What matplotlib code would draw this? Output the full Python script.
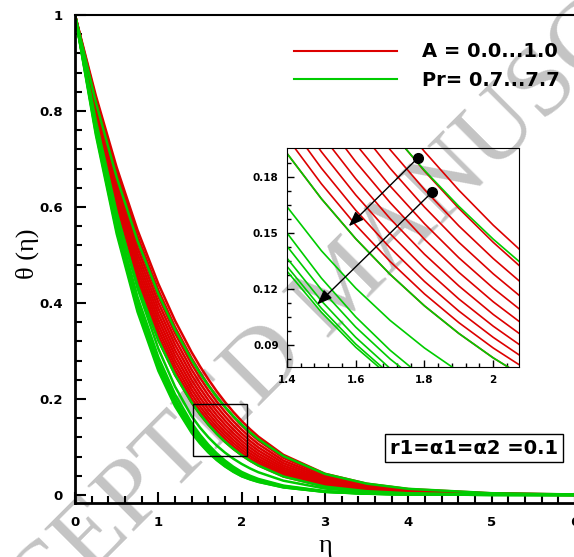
import matplotlib
matplotlib.use('Agg')
import matplotlib.pyplot as plt
from matplotlib.patches import Rectangle
from matplotlib.lines import Line2D

# ---------------- data ----------------
eta_grid = [0, 0.25, 0.5, 0.75, 1.0, 1.2, 1.4, 1.5, 1.6, 1.7, 1.8, 1.9, 2.0, 2.1, 2.2, 2.5, 3.0, 3.5, 4.0, 5.0, 6.0]

A_values = [0.0, 0.1, 0.2, 0.3, 0.4, 0.5, 0.6, 0.7, 0.8, 0.9, 1.0]
theta_A00 = [1, 0.8320, 0.6825, 0.5519, 0.4400, 0.3633, 0.2972, 0.2679, 0.2410, 0.2162, 0.1936, 0.1729, 0.1541, 0.1371, 0.1216, 0.0837, 0.0442, 0.0234, 0.0123, 0.0034, 0.0010]
theta_A01 = [1, 0.8256, 0.6720, 0.5392, 0.4266, 0.3500, 0.2846, 0.2558, 0.2293, 0.2051, 0.1831, 0.1631, 0.1449, 0.1284, 0.1136, 0.0775, 0.0403, 0.0210, 0.0109, 0.0029, 0.0008]
theta_A02 = [1, 0.8193, 0.6617, 0.5268, 0.4135, 0.3372, 0.2725, 0.2442, 0.2182, 0.1946, 0.1732, 0.1537, 0.1362, 0.1203, 0.1061, 0.0717, 0.0367, 0.0188, 0.0096, 0.0025, 0.0007]
theta_A03 = [1, 0.8129, 0.6515, 0.5147, 0.4009, 0.3249, 0.2609, 0.2331, 0.2077, 0.1846, 0.1638, 0.1449, 0.1280, 0.1127, 0.0991, 0.0664, 0.0335, 0.0169, 0.0085, 0.0022, 0.0005]
theta_A04 = [1, 0.8067, 0.6415, 0.5029, 0.3887, 0.3131, 0.2499, 0.2225, 0.1976, 0.1751, 0.1549, 0.1366, 0.1203, 0.1056, 0.0926, 0.0614, 0.0305, 0.0151, 0.0075, 0.0019, 0.0005]
theta_A05 = [1, 0.8004, 0.6316, 0.4913, 0.3768, 0.3016, 0.2393, 0.2124, 0.1881, 0.1662, 0.1465, 0.1288, 0.1130, 0.0990, 0.0865, 0.0568, 0.0278, 0.0136, 0.0066, 0.0016, 0.0004]
theta_A06 = [1, 0.7942, 0.6219, 0.4801, 0.3653, 0.2906, 0.2291, 0.2027, 0.1790, 0.1576, 0.1385, 0.1215, 0.1062, 0.0927, 0.0808, 0.0526, 0.0253, 0.0122, 0.0059, 0.0014, 0.0003]
theta_A07 = [1, 0.7881, 0.6123, 0.4690, 0.3542, 0.2800, 0.2194, 0.1935, 0.1703, 0.1495, 0.1310, 0.1145, 0.0999, 0.0869, 0.0754, 0.0487, 0.0231, 0.0109, 0.0052, 0.0012, 0.0003]
theta_A08 = [1, 0.7820, 0.6029, 0.4582, 0.3434, 0.2698, 0.2100, 0.1847, 0.1621, 0.1419, 0.1239, 0.1080, 0.0939, 0.0814, 0.0705, 0.0451, 0.0210, 0.0098, 0.0046, 0.0010, 0.0002]
theta_A09 = [1, 0.7760, 0.5936, 0.4477, 0.3329, 0.2599, 0.2011, 0.1763, 0.1542, 0.1346, 0.1172, 0.1018, 0.0882, 0.0763, 0.0658, 0.0417, 0.0191, 0.0088, 0.0040, 0.0009, 0.0002]
theta_A10 = [1, 0.7700, 0.5845, 0.4374, 0.3227, 0.2504, 0.1926, 0.1683, 0.1468, 0.1277, 0.1108, 0.0960, 0.0829, 0.0715, 0.0615, 0.0386, 0.0174, 0.0079, 0.0036, 0.0007, 0.0001]
theta_A = [theta_A00, theta_A01, theta_A02, theta_A03, theta_A04, theta_A05,
           theta_A06, theta_A07, theta_A08, theta_A09, theta_A10]

Pr_values = [0.7, 1.7, 2.7, 3.7, 4.7, 5.7, 6.7, 7.7]
theta_Pr07 = [1, 0.8182, 0.6620, 0.5296, 0.4190, 0.3445, 0.2813, 0.2535, 0.2280, 0.2047, 0.1835, 0.1642, 0.1466, 0.1307, 0.1163, 0.0811, 0.0438, 0.0237, 0.0128, 0.0037, 0.0011]
theta_Pr17 = [1, 0.7700, 0.5845, 0.4374, 0.3227, 0.2504, 0.1926, 0.1683, 0.1468, 0.1277, 0.1108, 0.0960, 0.0829, 0.0715, 0.0615, 0.0386, 0.0174, 0.0079, 0.0036, 0.0007, 0.0001]
theta_Pr27 = [1, 0.7800, 0.5891, 0.4307, 0.3048, 0.2259, 0.1640, 0.1404, 0.1203, 0.1030, 0.0882, 0.0755, 0.0647, 0.0554, 0.0474, 0.0298, 0.0134, 0.0060, 0.0027, 0.0005, 0.0001]
theta_Pr37 = [1, 0.7701, 0.5734, 0.4127, 0.2872, 0.2098, 0.1499, 0.1257, 0.1049, 0.0870, 0.0718, 0.0589, 0.0481, 0.0402, 0.0335, 0.0196, 0.0080, 0.0032, 0.0013, 0.0002, 0.0000]
theta_Pr47 = [1, 0.7619, 0.5617, 0.4007, 0.2767, 0.2009, 0.1428, 0.1195, 0.0994, 0.0823, 0.0678, 0.0555, 0.0452, 0.0378, 0.0316, 0.0184, 0.0075, 0.0030, 0.0012, 0.0002, 0.0000]
theta_Pr57 = [1, 0.7591, 0.5565, 0.3940, 0.2694, 0.1939, 0.1364, 0.1135, 0.0939, 0.0772, 0.0632, 0.0514, 0.0416, 0.0347, 0.0290, 0.0169, 0.0069, 0.0028, 0.0011, 0.0002, 0.0000]
theta_Pr67 = [1, 0.7553, 0.5507, 0.3877, 0.2635, 0.1886, 0.1320, 0.1095, 0.0903, 0.0741, 0.0604, 0.0490, 0.0395, 0.0330, 0.0276, 0.0161, 0.0065, 0.0027, 0.0011, 0.0002, 0.0000]
theta_Pr77 = [1, 0.7504, 0.5443, 0.3817, 0.2587, 0.1850, 0.1294, 0.1074, 0.0886, 0.0727, 0.0594, 0.0482, 0.0389, 0.0325, 0.0272, 0.0158, 0.0064, 0.0026, 0.0011, 0.0002, 0.0000]
theta_Pr = [theta_Pr07, theta_Pr17, theta_Pr27, theta_Pr37, theta_Pr47, theta_Pr57, theta_Pr67, theta_Pr77]

# zoom window drawn in the main plot and annotation points of the inset
zoom_box_x = [1.416, 2.06]
zoom_box_y = [0.081, 0.19]
arrow_starts = [(1.78, 0.19), (1.822, 0.1718)]
arrow_ends = [(1.574, 0.1525), (1.482, 0.1105)]

legend_labels = ['A = 0.0...1.0', 'Pr= 0.7...7.7']
box_label = 'r1=α1=α2 =0.1'
main_yticks = [0, 0.2, 0.4, 0.6, 0.8, 1.0]
main_ytick_labels = ['0', '0.2', '0.4', '0.6', '0.8', '1']
inset_xticks = [1.4, 1.6, 1.8, 2.0]
inset_xtick_labels = ['1.4', '1.6', '1.8', '2']
inset_yticks = [0.09, 0.12, 0.15, 0.18]

# ---------------- figure ----------------
RED = '#dd0000'
GREEN = '#00cc00'
W, H = 574, 557
fig = plt.figure(figsize=(W/100, H/100), dpi=100)
def fx(px): return px / W
def fy(py): return 1 - py / H

ax = fig.add_axes([fx(75), fy(503), (575-75)/W, (503-15)/H])
axin = fig.add_axes([fx(287), fy(367), (519-287)/W, (367-148)/H])
ax.set_facecolor('none')
axin.set_facecolor('none')

for A, lw in ((ax, 1.8), (axin, 1.2)):
    for th in theta_A:
        A.plot(eta_grid, th, color=RED, lw=lw, solid_joinstyle='round')
    for th in theta_Pr:
        A.plot(eta_grid, th, color=GREEN, lw=lw, solid_joinstyle='round')

# main axes styling
ax.set_xlim(0, 6)
ax.set_ylim(-0.0167, 1.0)
ax.set_xticks(range(7))
ax.set_xticks([i*0.2 for i in range(31)], minor=True)
ax.set_yticks(main_yticks)
ax.set_yticklabels(main_ytick_labels)
ax.set_yticks([i*0.04 for i in range(26)], minor=True)
for s in ax.spines.values():
    s.set_linewidth(2)
ax.spines['top'].set_linewidth(1.5)
ax.tick_params(which='both', direction='in', top=False, right=False, width=1.5)
ax.tick_params(which='major', length=8, labelsize=9.5, pad=9)
ax.tick_params(which='minor', length=5)
for t in ax.get_xticklabels() + ax.get_yticklabels():
    t.set_fontweight('bold')
    t.set_family('DejaVu Sans')
ax.set_xlabel('η', fontsize=19, family='Liberation Serif', labelpad=5)
ax.set_ylabel('θ (η)', fontsize=19, family='Liberation Serif')
ax.yaxis.set_label_coords(-0.072, 0.51)

# inset styling
axin.set_xlim(1.4, 2.075)
axin.set_ylim(0.078, 0.1955)
axin.set_xticks(inset_xticks)
axin.set_xticklabels(inset_xtick_labels)
axin.set_xticks([1.4 + i*0.04 for i in range(17)], minor=True)
axin.set_yticks(inset_yticks)
axin.set_yticks([0.0825 + i*0.0075 for i in range(15)], minor=True)
axin.tick_params(which='both', direction='in', top=False, right=False, width=1)
axin.tick_params(which='major', length=5, labelsize=7.5, pad=6)
axin.tick_params(which='minor', length=3)
for t in axin.get_xticklabels() + axin.get_yticklabels():
    t.set_fontweight('bold')

# zoom rectangle
ax.add_patch(Rectangle((zoom_box_x[0], zoom_box_y[0]), zoom_box_x[1]-zoom_box_x[0],
                       zoom_box_y[1]-zoom_box_y[0], fill=False, ec='k', lw=1, zorder=5))

# arrows with dots in inset
for (x0, y0), (x1, y1) in zip(arrow_starts, arrow_ends):
    axin.plot([x0], [y0], 'o', color='k', ms=7)
    axin.annotate('', xy=(x1, y1), xytext=(x0, y0),
                  arrowprops=dict(arrowstyle='-|>,head_length=0.9,head_width=0.35', color='k', lw=1))

# legend
handles = [Line2D([], [], color=RED, lw=1.5), Line2D([], [], color=GREEN, lw=1.5)]
ax.legend(handles, legend_labels, loc='upper left', bbox_to_anchor=(fx(276), fy(25)),
          bbox_transform=fig.transFigure, frameon=False, handlelength=5.3, handletextpad=1.3,
          labelspacing=0.5, prop=dict(family='DejaVu Sans', weight='bold', size=14))

# parameter box
ax.text(fx(474), fy(448), box_label, transform=fig.transFigure, ha='center', va='center',
        fontsize=14, fontweight='bold', bbox=dict(boxstyle='square,pad=0.25', fc='white', ec='k', lw=1))

# watermark
fig.text(fx(345), fy(285), 'ACCEPTED MANUSCRIPT', rotation=45, ha='center', va='center',
         fontsize=72, color='#c4c4c4', family='Liberation Serif', zorder=-10)

fig.savefig('out.png', dpi=100)
